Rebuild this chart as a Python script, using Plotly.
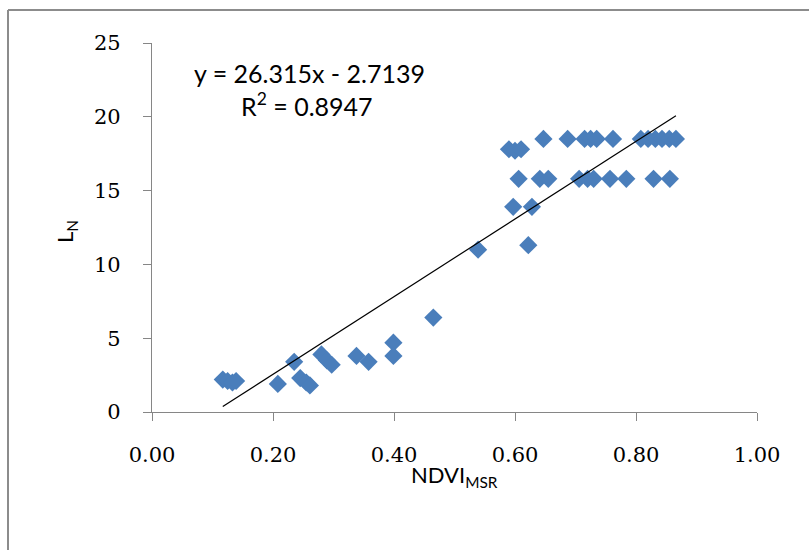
import plotly.graph_objects as go

# ---- data ----
ndvi_msr = [0.117, 0.125, 0.133, 0.139, 0.208, 0.235, 0.245, 0.255, 0.261,
            0.280, 0.289, 0.297, 0.338, 0.358, 0.399, 0.399, 0.465, 0.539,
            0.622, 0.597, 0.628,
            0.590, 0.600, 0.610,
            0.647, 0.687, 0.715, 0.725, 0.735, 0.762, 0.808, 0.820, 0.832,
            0.843, 0.855, 0.866,
            0.606, 0.641, 0.655, 0.706, 0.720, 0.730, 0.757, 0.784, 0.829, 0.856]
l_n = [2.2, 2.1, 2.0, 2.1, 1.9, 3.4, 2.3, 2.0, 1.8,
       3.9, 3.5, 3.2, 3.8, 3.4, 4.7, 3.8, 6.4, 11.0,
       11.3, 13.9, 13.9,
       17.8, 17.7, 17.8,
       18.5, 18.5, 18.5, 18.5, 18.5, 18.5, 18.5, 18.5, 18.5,
       18.5, 18.5, 18.5,
       15.8, 15.8, 15.8, 15.8, 15.8, 15.8, 15.8, 15.8, 15.8, 15.8]

trend_slope = 26.315
trend_intercept = -2.7139
r_squared = 0.8947

x_ticks = [0.0, 0.2, 0.4, 0.6, 0.8, 1.0]
y_ticks = [0, 5, 10, 15, 20, 25]

# ---- figure ----
fig = go.Figure()

fig.add_trace(go.Scatter(
    x=ndvi_msr, y=l_n, mode="markers",
    marker=dict(symbol="diamond", size=14, color="#4A7EBB", line=dict(width=0)),
    showlegend=False, hoverinfo="x+y"))

x_lo, x_hi = min(ndvi_msr), max(ndvi_msr)
fig.add_trace(go.Scatter(
    x=[x_lo, x_hi],
    y=[trend_slope * x_lo + trend_intercept, trend_slope * x_hi + trend_intercept],
    mode="lines", line=dict(color="black", width=1.2),
    showlegend=False, hoverinfo="skip"))

axis_col = "#868686"
tick_font = dict(family="DejaVu Serif", size=21, color="black")
label_font = dict(family="Lato", size=22, color="black")

fig.update_xaxes(
    range=[0, 1], tickvals=x_ticks, tickformat=".2f",
    showline=True, linecolor=axis_col, linewidth=1.3,
    ticks="outside", ticklen=8, tickcolor=axis_col, tickwidth=1.3,
    ticklabelstandoff=16,
    showgrid=False, zeroline=False, tickfont=tick_font)
fig.update_yaxes(
    range=[0, 25], tickvals=y_ticks,
    showline=True, linecolor=axis_col, linewidth=1.3,
    ticks="outside", ticklen=8, tickcolor=axis_col, tickwidth=1.3,
    ticklabelstandoff=18,
    showgrid=False, zeroline=False, tickfont=tick_font)

L, R, T, B = 152, 52, 43, 138
W, H = 809, 550
pw, ph = W - L - R, H - T - B


def px(x):
    return (x - L) / pw


def py(y):
    return (H - B - y) / ph


eq_text = f"y = {trend_slope}x - {abs(trend_intercept)}"
r2_text = f"R<sup>2</sup> = {r_squared}"

eq_font = dict(family="Lato", size=25, color="black")
fig.add_annotation(x=px(309), y=py(73), xref="paper", yref="paper",
                   text=eq_text, showarrow=False, font=eq_font,
                   xanchor="center", yanchor="middle")
fig.add_annotation(x=px(307), y=py(104), xref="paper", yref="paper",
                   text=r2_text, showarrow=False, font=eq_font,
                   xanchor="center", yanchor="middle")
fig.add_annotation(x=px(454), y=py(476), xref="paper", yref="paper",
                   text="NDVI<sub>MSR</sub>", showarrow=False, font=label_font,
                   xanchor="center", yanchor="middle")
fig.add_annotation(x=px(66), y=py(232), xref="paper", yref="paper",
                   text="L<sub>N</sub>", showarrow=False, textangle=-90, font=label_font,
                   xanchor="center", yanchor="middle")

# chart-area border (top/left visible, right/bottom run off the picture)
border = dict(color="#8C8C8C", width=2)
fig.add_shape(type="line", xref="paper", yref="paper",
              x0=px(8), x1=px(812), y0=py(10), y1=py(10), line=border)
fig.add_shape(type="line", xref="paper", yref="paper",
              x0=px(8), x1=px(8), y0=py(10), y1=py(553), line=border)

fig.update_layout(
    width=W, height=H,
    margin=dict(l=L, r=R, t=T, b=B),
    paper_bgcolor="white", plot_bgcolor="white",
)

fig.write_html("out.html")
